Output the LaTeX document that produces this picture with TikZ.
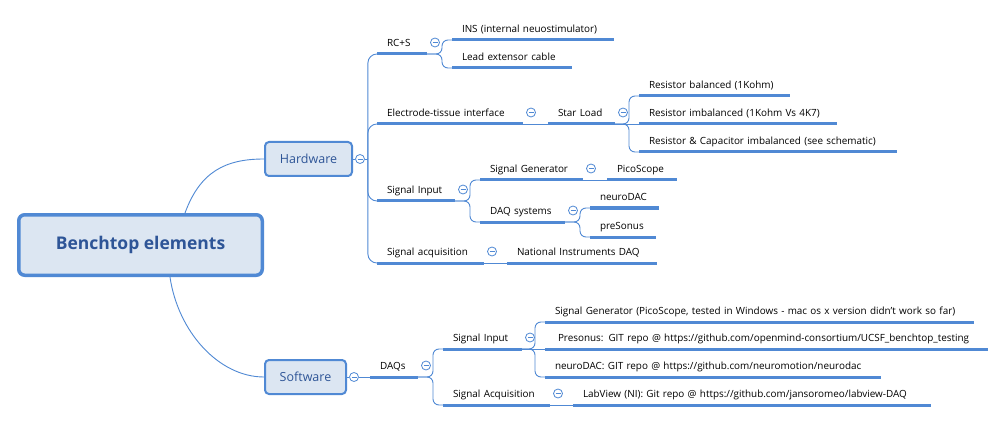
\documentclass[tikz,border=0pt]{standalone}
\usepackage{fontspec}
\setmainfont{Open Sans}
\definecolor{lineblue}{HTML}{5089D4}
\definecolor{boxfill}{HTML}{DCE6F2}
\definecolor{boxtext}{HTML}{2E5597}
\newcommand\mmbranch[2]{\draw[conn, rounded corners=6pt] (#1.south east) -- ([xshift=-10pt]#1.south east -| #2.south west) |- (#2.south west);}
\newcommand\mmstraight[2]{\draw[conn] (#1.south east) -- (#2.south west);}
\newcommand\mmcollapse[1]{\node[collapse] (c-#1) at ([shift={(8pt,11.5pt)}]#1.south east) {};}
\begin{document}
\begin{tikzpicture}[x=1pt,y=-1pt,
  conn/.style={draw=lineblue, line width=0.9pt},
  ul/.style={draw=lineblue, line width=3pt},
  topic/.style={anchor=south west, inner xsep=10pt, inner ysep=7.5pt, outer sep=0pt,
    text depth=0pt, text height=7pt, text width=#1pt, align=left,
    font=\fontsize{9.9}{12}\selectfont,
    execute at begin node=\hbox\bgroup, execute at end node=\egroup},
  collapse/.style={circle, draw=lineblue, line width=0.8pt, fill=white,
    minimum size=9pt, inner sep=0pt,
    path picture={\draw[lineblue, line width=0.8pt]
      ([xshift=-2.5pt]path picture bounding box.center) --
      ([xshift=2.5pt]path picture bounding box.center);}},
  mainbox/.style={draw=lineblue, fill=boxfill, line width=3.5pt, rounded corners=6pt,
    text=boxtext, font=\fontsize{17.5}{21}\selectfont\bfseries,
    minimum width=243.5pt, minimum height=60.5pt, inner sep=0pt},
  subbox/.style={draw=lineblue, fill=boxfill, line width=2pt, rounded corners=4pt,
    text=boxtext, font=\fontsize{12.5}{15}\selectfont,
    minimum height=34pt, inner sep=0pt}
]
\fill[white] (0,0) rectangle (1006,422);
\useasboundingbox (0,0) rectangle (1006,422);

% main boxes
\node[mainbox] (main) at (140.5,245) {Benchtop elements};
\node[subbox, minimum width=87pt] (hw) at (308.5,159) {Hardware};
\node[subbox, minimum width=81pt] (sw) at (305.5,377) {Software};

\draw[conn] ([xshift=44.5pt]main.north) .. controls +(15,-41) and +(-39,0) .. (hw.west);
\draw[conn] ([xshift=29.5pt]main.south) .. controls +(8,55) and +(-45,0) .. (sw.west);

% hardware topics
\node[topic=30] (rcs) at (377,54) {RC+S};
\node[topic=126] (eti) at (377,124) {Electrode-tissue interface};
\node[topic=58] (sigin) at (377,201) {Signal Input};
\node[topic=87] (sigacq) at (377,263) {Signal acquisition};
\node[topic=142] (ins) at (452,40) {INS (internal neuostimulator)};
\node[topic=100] (lead) at (452,68) {Lead extensor cable};
\node[topic=47] (star) at (548,124) {Star Load};
\node[topic=83] (siggen) at (480,180) {Signal Generator};
\node[topic=65] (daqsys) at (480,222) {DAQ systems};
\node[topic=130] (nidaq) at (507,263) {National Instruments DAQ};
\node[topic=131] (rbal) at (639,96) {Resistor balanced (1Kohm)};
\node[topic=178] (rimb) at (639,124) {Resistor imbalanced (1Kohm Vs 4K7)};
\node[topic=238] (rcap) at (639,152) {Resistor \& Capacitor imbalanced (see schematic)};
\node[topic=50] (pico) at (607,180) {PicoScope};
\node[topic=49] (ndac) at (590,208) {neuroDAC};
\node[topic=46] (preson) at (590,237) {preSonus};

% software topics
\node[topic=28] (daqs) at (370,377) {DAQs};
\node[topic=59] (swsigin) at (443,349) {Signal Input};
\node[topic=87] (swsigacq) at (443,405) {Signal Acquisition};
\node[topic=409] (sg) at (545,322) {Signal Generator (PicoScope, tested in Windows - mac os x version didn't work so far)};
\node[topic=423] (pres) at (545,349) {\hspace*{3pt}Presonus: GIT repo @ https://github.com/openmind-consortium/UCSF\_benchtop\_testing};
\node[topic=316] (nd) at (545,377) {neuroDAC: GIT repo @ https://github.com/neuromotion/neurodac};
\node[topic=338] (lab) at (573,405) {LabView (NI): Git repo @ https://github.com/jansoromeo/labview-DAQ};

\foreach \n in {rcs,eti,sigin,sigacq,ins,lead,star,siggen,daqsys,nidaq,rbal,rimb,rcap,pico,ndac,preson,daqs,swsigin,swsigacq,sg,pres,nd,lab}
  {\draw[ul] (\n.south west) -- (\n.south east);}

% hardware connectors
\node[collapse] (c-hw) at ([xshift=7pt]hw.east) {};
\draw[conn] (hw.east) -- (c-hw.west);
\coordinate (jhw) at ([xshift=3pt]c-hw.east);
\draw[conn] (c-hw.east) -- (jhw);
\foreach \n in {rcs,eti,sigin,sigacq}
  {\draw[conn, rounded corners=9pt] (jhw) |- (\n.south west);}

\mmbranch{rcs}{ins}
\mmbranch{rcs}{lead}
\mmstraight{eti}{star}
\mmbranch{star}{rbal}
\mmstraight{star}{rimb}
\mmbranch{star}{rcap}
\mmbranch{sigin}{siggen}
\mmbranch{sigin}{daqsys}
\mmstraight{siggen}{pico}
\mmbranch{daqsys}{ndac}
\mmbranch{daqsys}{preson}
\mmstraight{sigacq}{nidaq}

% software connectors
\node[collapse] (c-sw) at ([xshift=7pt]sw.east) {};
\draw[conn] (sw.east) -- (c-sw.west);
\draw[conn] (c-sw.east) -- (daqs.south west);
\mmbranch{daqs}{swsigin}
\mmbranch{daqs}{swsigacq}
\mmbranch{swsigin}{sg}
\mmstraight{swsigin}{pres}
\mmbranch{swsigin}{nd}
\mmstraight{swsigacq}{lab}

% collapse markers
\foreach \n in {rcs,eti,star,sigin,siggen,daqsys,sigacq,daqs,swsigin,swsigacq}
  {\mmcollapse{\n}}
\end{tikzpicture}
\end{document}
